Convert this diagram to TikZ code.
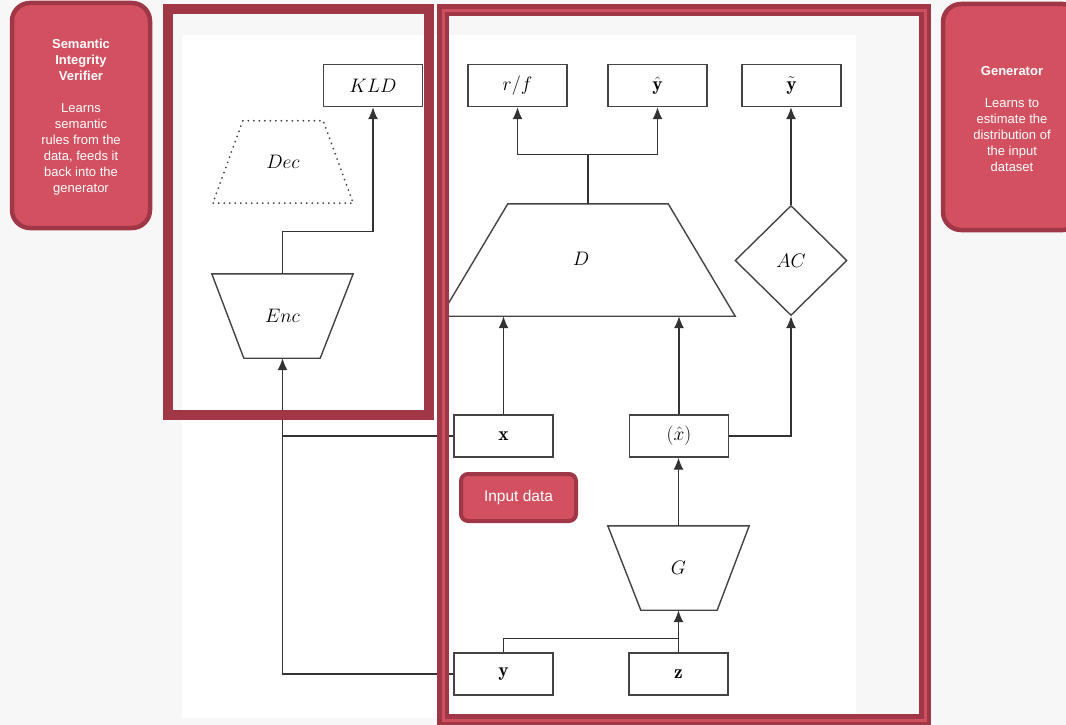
\RequirePackage{fix-cm}
\documentclass[tikz,border=0pt]{standalone}
\usepackage{fontspec}
\usetikzlibrary{arrows.meta,shapes.geometric}
\newfontfamily\calloutfont{Liberation Sans}

\definecolor{pagebg}{HTML}{F7F7F7}
\definecolor{framered}{HTML}{A03746}
\definecolor{framelight}{HTML}{D04F5F}
\definecolor{calloutfill}{HTML}{D35060}
\definecolor{wire}{HTML}{333333}
\definecolor{boxline}{HTML}{444444}

\tikzset{
  mathfont/.style={font=\fontsize{19.5}{22}\selectfont},
  stepbox/.style={draw=boxline, line width=1.4pt, fill=white, minimum width=99pt,
    minimum height=42pt, inner sep=0pt, mathfont},
  trapbox/.style={minimum width=#1, inner sep=0pt, mathfont},
  wireline/.style={draw=wire, line width=1.3pt},
  arrowline/.style={wireline, -{Latex[length=12pt,width=10pt]}},
  shapeline/.style={draw=boxline, line width=1.4pt},
  callout/.style={draw=framered, line width=4.5pt, fill=calloutfill, rounded corners=18pt},
  callouttext/.style={text=white, align=center,
    font=\calloutfont\fontsize{13}{16}\selectfont},
  framebox/.style={draw=framered, line width=10pt},
}

\begin{document}
\begin{tikzpicture}[x=1pt,y=-1pt]
\useasboundingbox (0,0) rectangle (1066,725);
\clip (0,0) rectangle (1066,725);

% page and drawing area
\fill[pagebg] (0,0) rectangle (1066,725);
\fill[white] (182,35) rectangle (856,718);

% output boxes
\node[stepbox] (kld)    at (373,85.5)   {$KLD$};
\node[stepbox] (rf)     at (517.5,85.5) {$r/f$};
\node[stepbox] (yhat)   at (657.5,85.5) {$\hat{\mathbf{y}}$};
\node[stepbox] (ytilde) at (791.5,85.5) {$\tilde{\mathbf{y}}$};

% input and latent boxes
\node[stepbox] (xbox) at (503.5,436) {$\mathbf{x}$};
\node[stepbox] (xhat) at (679,436)   {$(\hat{x})$};
\node[stepbox] (ybox) at (503.5,674) {$\mathbf{y}$};
\node[stepbox] (zbox) at (678.5,674) {$\mathbf{z}$};

% decoder (dotted), encoder, discriminator, generator
\node[trapbox=140pt, minimum height=82pt] (dec) at (283,162) {$Dec$};
\draw[boxline, line width=2pt, dash pattern=on 0pt off 5.5pt, line cap=round]
  ([xshift=30pt]dec.north west) -- ([xshift=-30pt]dec.north east)
  -- (dec.south east) -- (dec.south west) -- cycle;

\node[trapbox=141pt, minimum height=84pt] (enc) at (282.5,316) {$Enc$};
\draw[shapeline] (enc.north west) -- (enc.north east)
  -- ([xshift=-33pt]enc.south east) -- ([xshift=32pt]enc.south west) -- cycle;

\node[trapbox=294pt, minimum height=112pt] (d) at (588,260) {};
\node[mathfont, inner sep=0pt] (dlabel) at (581,259) {$D$};
\draw[shapeline] ([xshift=67pt]d.north west) -- ([xshift=-67pt]d.north east)
  -- (d.south east) -- (d.south west) -- cycle;

\node[trapbox=141pt, minimum height=84pt] (g) at (678.5,568) {$G$};
\draw[shapeline] (g.north west) -- (g.north east)
  -- ([xshift=-32pt]g.south east) -- ([xshift=33pt]g.south west) -- cycle;

\node[draw=boxline, line width=1.4pt, diamond, minimum width=112pt, minimum height=110pt,
  inner sep=0pt, mathfont] (ac) at (791,260.5) {$AC$};

% connectors
\draw[arrowline] (enc.north) -- ++(0,-42) -| (kld.south);
\draw[arrowline] (ybox.west) -| (enc.south);
\draw[wireline] (xbox.west) -- (xbox.west -| enc.south);
\draw[arrowline] (xbox.north) -- (xbox.north |- d.south);
\draw[arrowline] (xhat.north) -- (xhat.north |- d.south);
\draw[arrowline] (xhat.east) -| (ac.south);
\draw[arrowline] (ac.north) -- (ac.north |- ytilde.south);
\draw[wireline] (d.north) -- ++(0,-49) coordinate (dsplit);
\draw[arrowline] (dsplit) -| (rf.south);
\draw[arrowline] (dsplit) -| (yhat.south);
\draw[arrowline] (g.north) -- (g.north |- xhat.south);
\draw[arrowline] (zbox.north) -- (zbox.north |- g.south);
\path (zbox.north) ++(0,-14) coordinate (yjoin);
\draw[wireline] (ybox.north) |- (yjoin);

% grouping frames
\draw[framebox] (168,9) rectangle (429,415);
\draw[framered, line width=12pt] (443,10.5) rectangle (925,720);
\draw[framelight, line width=3pt] (443,10.5) rectangle (925,720);

% callouts
\draw[callout] (12,3) rectangle (150,228);
\node[callouttext] (sivtext) at (81,117)
  {\textbf{Semantic}\\\textbf{Integrity}\\\textbf{Verifier}\\[16pt]Learns\\semantic\\rules from the\\data, feeds it\\back into the\\generator};

\draw[callout] (943,4) rectangle (1081,230);
\node[callouttext] (gentext) at (1012,119)
  {\textbf{Generator}\\[16pt]Learns to\\estimate the\\distribution of\\the input\\dataset};

\node[draw=framered, line width=4pt, fill=calloutfill, rounded corners=7pt,
  minimum width=115pt, minimum height=47pt, text=white,
  font=\calloutfont\fontsize{15.5}{18}\selectfont] (inputdata) at (518.5,497.5) {Input data};
\end{tikzpicture}
\end{document}
